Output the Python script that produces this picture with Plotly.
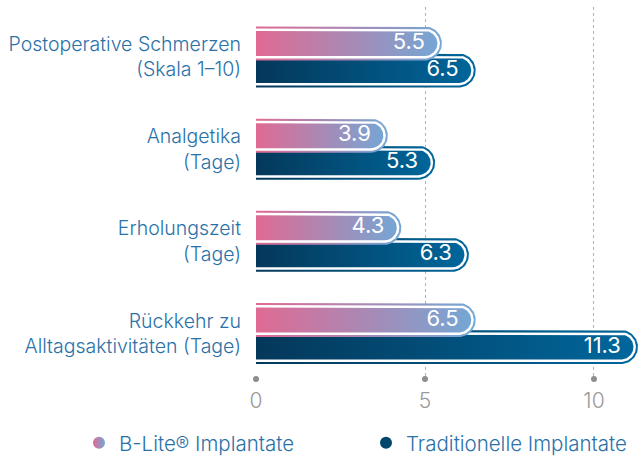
import numpy as np
import plotly.graph_objects as go

# ---------------- data ----------------
categories = [
    "Postoperative Schmerzen<br>(Skala 1–10)",
    "Analgetika<br>(Tage)",
    "Erholungszeit<br>(Tage)",
    "Rückkehr zu<br>Alltagsaktivitäten (Tage)",
]
blite_values = [5.5, 3.9, 4.3, 6.5]
traditional_values = [6.5, 5.3, 6.3, 11.3]
x_tick_values = [0, 5, 10]
series_names = ["B-Lite® Implantate", "Traditionelle Implantate"]

# ---------------- style ----------------
W, H = 638, 458
ML, MR, MT, MB = 256, 0, 7, 79
XMAX = 11.302
YR = [3.4935, -0.5425]
PW, PH = W - ML - MR, H - MT - MB
PXX = PW / XMAX
PXY = PH / (YR[0] - YR[1])

PINK_SCALE = [[0, "#e06a93"], [1, "#72a8d6"]]
NAVY_SCALE = [[0, "#04385a"], [1, "#00679c"]]
LABEL_COLOR = "#2a71a8"
GRID_COLOR = "#b0b0b0"
FONT = "Inter, Lato, Roboto, sans-serif"

HALF_PX = 17.0      # half bar height in px (outer)
OFFSET_PX = 13.5    # offset of each bar from the category centre
OUTER_W = 2.0
WHITE_W = 2.5


def bar_path(v, yc, inset):
    hpx = HALF_PX - inset
    h = hpx / PXY
    r = hpx / PXX
    cx = v - HALF_PX / PXX
    th = np.linspace(-np.pi / 2, np.pi / 2, 41)
    xs = [0, cx] + list(cx + r * np.cos(th)) + [cx, 0, 0]
    ys = [yc - h, yc - h] + list(yc + h * np.sin(th)) + [yc + h, yc + h, yc - h]
    return xs, ys


fig = go.Figure()


def add_bar(v, yc, scale):
    for inset, kind in [(0, "g"), (OUTER_W, "w"), (OUTER_W + WHITE_W, "g")]:
        xs, ys = bar_path(v, yc, inset)
        kw = dict(x=xs, y=ys, mode="lines", fill="toself", line=dict(width=0),
                  showlegend=False, hoverinfo="skip")
        if kind == "g":
            kw["fillgradient"] = dict(type="horizontal", colorscale=scale, start=0, stop=v)
        else:
            kw["fillcolor"] = "white"
        fig.add_trace(go.Scatter(**kw))


# draw traditional (lower) bars first, B-Lite bars on top
for i, v in enumerate(traditional_values):
    add_bar(v, i + OFFSET_PX / PXY, NAVY_SCALE)
for i, v in enumerate(blite_values):
    add_bar(v, i - OFFSET_PX / PXY, PINK_SCALE)

# value labels
for vals, sign in [(traditional_values, 1), (blite_values, -1)]:
    fig.add_trace(go.Scatter(
        x=[v - 17 / PXX for v in vals],
        y=[i + sign * OFFSET_PX / PXY for i in range(len(vals))],
        mode="text", text=[f"{v:.1f}" for v in vals],
        textposition="middle left",
        textfont=dict(family=FONT, size=22, color="white", weight=400),
        showlegend=False, hoverinfo="skip", cliponaxis=False,
    ))

# dots at the bottom of grid lines
fig.add_trace(go.Scatter(
    x=x_tick_values, y=[YR[0]] * len(x_tick_values), mode="markers",
    marker=dict(size=6, color="#8e8e8e"), showlegend=False,
    hoverinfo="skip", cliponaxis=False,
))

# legend entries
fig.add_trace(go.Scatter(
    x=[None], y=[None], mode="markers", name=series_names[0],
    marker=dict(size=13, color="#e06a93",
                gradient=dict(type="horizontal", color="#72a8d6")),
))
fig.add_trace(go.Scatter(
    x=[None], y=[None], mode="markers", name=series_names[1],
    marker=dict(size=13, color="#03466d"),
))

fig.update_layout(
    width=W, height=H,
    margin=dict(l=ML, r=MR, t=MT, b=MB, autoexpand=False),
    paper_bgcolor="white", plot_bgcolor="white",
    font=dict(family=FONT, color=LABEL_COLOR),
    showlegend=True,
    legend=dict(
        orientation="h",
        x=(79 - ML) / PW, y=(H - MB - 443) / PH, xanchor="left", yanchor="middle",
        font=dict(family=FONT, size=20.5, color=LABEL_COLOR, weight=300),
        entrywidth=242, entrywidthmode="pixels", itemsizing="constant",
    ),
    xaxis=dict(
        range=[0, XMAX], tickvals=x_tick_values, showgrid=True,
        gridcolor=GRID_COLOR, griddash="dot", gridwidth=1,
        zeroline=False, showline=False, ticks="", automargin=False,
        tickfont=dict(family=FONT, size=21, color="#9a9a9a", weight=300),
        ticklabelstandoff=7, fixedrange=True,
    ),
    yaxis=dict(
        range=YR, tickvals=list(range(len(categories))), ticktext=categories,
        showgrid=False, zeroline=False, showline=False, ticks="", automargin=False,
        tickfont=dict(family=FONT, size=19.5, color=LABEL_COLOR, weight=300),
        ticklabelstandoff=14, fixedrange=True,
    ),
)

fig.write_html("out.html", config={"displayModeBar": False},
               post_script="document.body.style.margin='0';")
